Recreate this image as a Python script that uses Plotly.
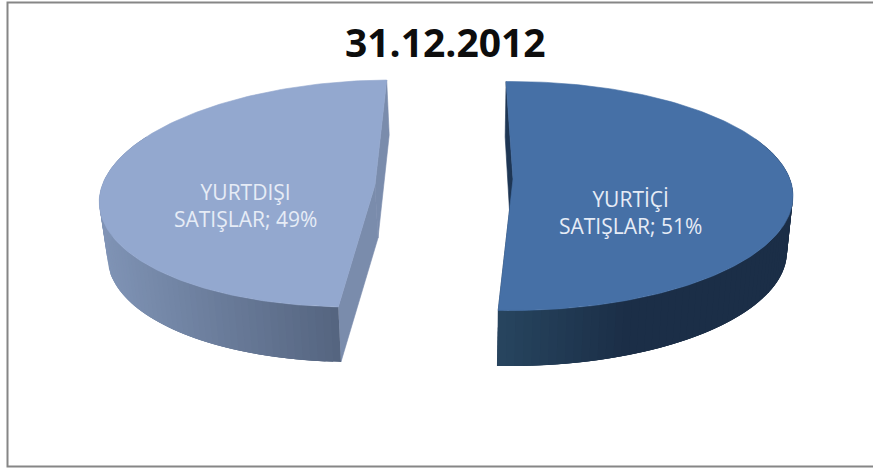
import numpy as np
import plotly.graph_objects as go

title = "31.12.2012"
categories = ["YURTİÇİ SATIŞLAR", "YURTDIŞI SATIŞLAR"]
shares = [51, 49]
label_lines = [["YURTİÇİ", "SATIŞLAR; 51%"], ["YURTDIŞI", "SATIŞLAR; 49%"]]

W, H = 873, 468
START_DEG = -1.0

# projection of each exploded slice (pixels of the 873x468 canvas)
GEOM = [
    dict(cx=511, cy=196, rx=282, ry=114.5, shear=0.0, apex=(513, 179),
         bcx=510, bcy=251.5, brx=277, bry=114.5, bapex=(511, 236),
         top="#4670A6", inner="#1E3654", wall_x=(497, 625), wall_c=("#27455F", "#1B2E47"),
         vis=(60, None)),
    dict(cx=371, cy=193.5, rx=271, ry=113.5, shear=-0.18, apex=(375, 185),
         bcx=373.4, bcy=248.5, brx=265, bry=113.5, bapex=(378, 238),
         top="#93A8CF", inner="#7A8CAC", wall_x=(106, 338), wall_c=("#8094B6", "#556580"),
         vis=(None, 300)),
]
LABEL_POS = [(630, 212), (245.5, 205)]


def rim(cx, cy, rx, ry, s, deg):
    t = np.radians(deg)
    dy = -ry * np.cos(t)
    return cx + rx * np.sin(t) + s * dy, cy + dy


def hex_mix(a, b, f):
    f = min(max(f, 0), 1)
    ca = [int(a[i:i + 2], 16) for i in (1, 3, 5)]
    cb = [int(b[i:i + 2], 16) for i in (1, 3, 5)]
    return "#%02x%02x%02x" % tuple(round(p + (q - p) * f) for p, q in zip(ca, cb))


def poly(fig, xs, ys, color, name, lw=0.6):
    fig.add_trace(go.Scatter(x=list(xs), y=list(ys), mode="lines", fill="toself",
                             fillcolor=color, line=dict(color=color, width=lw),
                             name=name, hoverinfo="skip", showlegend=False))


fig = go.Figure()
total = sum(shares)
a0 = START_DEG
for cat, share, g, lines, lp in zip(categories, shares, GEOM, label_lines, LABEL_POS):
    a1 = a0 + 360 * share / total
    top = lambda d: rim(g["cx"], g["cy"], g["rx"], g["ry"], g["shear"], d)
    bot = lambda d: rim(g["bcx"], g["bcy"], g["brx"], g["bry"], g["shear"], d)

    # radial inner walls
    for d in (a0, a1):
        tx, ty = top(d)
        bx, by = bot(d)
        poly(fig, [tx, g["apex"][0], g["bapex"][0], bx, tx],
             [ty, g["apex"][1], g["bapex"][1], by, ty], g["inner"], cat)

    # curved outer wall with a horizontal gradient; each band overlaps the next
    lo = g["vis"][0] if g["vis"][0] is not None else a0
    hi = g["vis"][1] if g["vis"][1] is not None else a1
    lo, hi = max(lo, a0), min(hi, a1)
    edges = np.linspace(lo, hi, 71)
    step = edges[1] - edges[0]
    for d0, d1 in zip(edges[:-1], edges[1:]):
        d2 = min(d1 + 2 * step, hi)
        ds = np.linspace(d0, d2, 5)
        tx, ty = top(ds)
        bx, by = bot(ds)
        fx = (bot(d0)[0] + bot(d1)[0]) / 2
        f = (fx - g["wall_x"][0]) / (g["wall_x"][1] - g["wall_x"][0])
        poly(fig, [*tx, *bx[::-1], tx[0]], [*ty, *by[::-1], ty[0]],
             hex_mix(g["wall_c"][0], g["wall_c"][1], f), cat, lw=0)

    # top face
    ds = np.linspace(a0, a1, 181)
    xs, ys = top(ds)
    poly(fig, [g["apex"][0], *xs, g["apex"][0]], [g["apex"][1], *ys, g["apex"][1]], g["top"], cat)

    fig.add_annotation(x=lp[0], y=lp[1], text="<br>".join(lines), showarrow=False,
                       font=dict(family="Open Sans", size=21, color="#E6ECF6"))
    a0 = a1

fig.add_annotation(x=445, y=41, text=f"<b>{title}</b>", showarrow=False,
                   font=dict(family="Open Sans", size=39, color="#0D0D0D"))

fig.update_layout(
    width=W, height=H, margin=dict(l=0, r=0, t=0, b=0),
    paper_bgcolor="white", plot_bgcolor="white", showlegend=False,
    xaxis=dict(range=[0, W], visible=False, fixedrange=True),
    yaxis=dict(range=[H, 0], visible=False, fixedrange=True),
    shapes=[dict(type="rect", xref="x", yref="y", x0=7.5, y0=2.5, x1=W + 10, y1=466.5,
                 line=dict(color="#868686", width=2), fillcolor="rgba(0,0,0,0)", layer="below")],
)
fig.write_html("out.html", config={"displayModeBar": False},
               post_script="document.body.style.margin='0';")
